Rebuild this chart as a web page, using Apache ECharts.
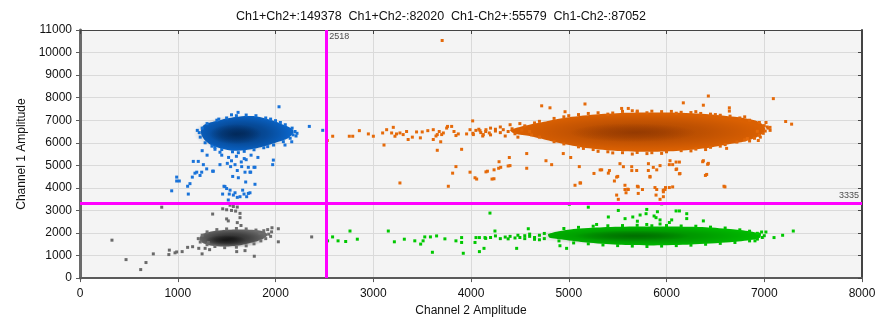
<!DOCTYPE html>
<html><head><meta charset="utf-8">
<script src="https://cdn.jsdelivr.net/npm/echarts@6/dist/echarts.min.js"></script>
<style>html,body{margin:0;padding:0;background:#fff}#c{width:882px;height:322px}</style>
</head><body><div id="c"></div>
<script>
// ---- axis ranges & thresholds ----
const xMin = 0, xMax = 8000, xStep = 1000;
const yMin = 0, yMax = 11000, yStep = 1000;
const thresholdX = 2518;
const thresholdY = 3335;
const xAxisName = 'Channel 2 Amplitude';
const yAxisName = 'Channel 1 Amplitude';
const quadrantNames = ['Ch1+Ch2+', 'Ch1+Ch2-', 'Ch1-Ch2+', 'Ch1-Ch2-'];
const quadrantCounts = [149378, 82020, 55579, 87052];

// ---- Ch1+Ch2+ (orange) ----
// dense-cloud outline (x, y)
const orangeOutline = [[4400,6560],[4500,6700],[4650,6850],[4800,6980],[5000,7130],[5300,7260],[5600,7330],[6000,7340],[6400,7280],[6700,7150],[6900,7000],[6990,6800],[7010,6600],[6980,6400],[6900,6200],[6800,6060],[6650,5950],[6400,5760],[6100,5640],[5800,5600],[5500,5640],[5200,5760],[4950,5950],[4750,6150],[4600,6300],[4450,6400]];
// density shading: centre x, centre y, half-width (x units), half-height (y units)
const orangeDensity = [[5750,6480,1250,800],[5660,6450,650,420]];
const orangeEdge = [
 [4700,6950],[4850,7080],[4950,7150],[5100,7250],[5200,7300],[5300,7330],[5450,7320],[5550,7390],[5700,7360],[5850,7400],[5950,7380],[6050,7390],[6150,7350],[6250,7340],[6350,7300],[6450,7270],[6550,7220],[6650,7180],[6750,7100],[6850,7000],[5400,7270],[5800,7330],[6100,7310],[6500,7250],[5000,7200],[5650,7420],[6300,7380],[6800,7150],
 [6950,6900],[7000,6760],[7040,6650],[7010,6520],[6990,6420],[6950,6330],[6900,6200],[6800,6130],[7060,6550],[7030,6700],[6960,6250],
 [4850,6050],[4950,5950],[5100,5820],[5250,5700],[5400,5600],[5550,5560],[5700,5570],[5850,5560],[6000,5600],[6150,5650],[6300,5720],[6450,5800],[6600,5920],[6720,6030],[5300,5620],[5650,5500],[5950,5530],[6250,5640],[5150,5750],[6400,5700],[5450,5550],[5800,5520],[6550,5850],[6850,6080],
 [4600,6500],[4520,6560],[4450,6400],[4380,6500],[4300,6450],[4250,6600],[4200,6350],[4150,6500],[4100,6450],[4050,6550],[4700,6250],[4650,6880],[4550,6750],[4480,6250],[4350,6300],[4620,6350],[4300,6700],[4200,6650],[4120,6300],[4020,6420],[4400,6800],[4500,6850],[4250,6520],[4330,6580],[4420,6620],[4080,6600]
];
const orangeOut = [
 [2530,6100],[2585,6290],[2755,6290],[2790,6290],[2858,6537],[2950,6392],[3001,6290],[3096,6435],[3110,5899],[3137,6580],[3188,6435],[3205,6684],[3222,6290],[3238,6392],[3273,6435],[3306,6363],[3341,6500],[3357,6145],[3400,6250],[3443,6480],[3482,6218],[3501,6480],[3558,6537],[3614,6580],[3655,6363],[3675,6500],[3700,6363],[3705,10535],[3655,5667],[3690,6044],[3751,6652],[3614,6145],[3717,6435],[3642,6300],[3760,6725],[3802,6725],[3826,6500],[3846,6320],[3870,6392],[3904,5710],[3955,6392],[3990,6580],[4017,6970],[4024,6363],[4092,6537],[4126,6363],[4153,6580],[4187,6435],[3273,4218],[3768,4072],
 [4723,7638],[4808,7550],[4962,7377],[5166,7720],[5541,7522],[5609,7522],[5701,7405],[6172,7770],[6377,7666],[6428,8074],[6643,7550],[6643,7405],[7093,7957],[7018,6900],[7219,6944],[7280,6826],[7059,6683],[6929,6509],[6939,6100],[6827,6187],
 [6615,5752],[6428,5087],[6411,4596],[6598,4044],[6377,5204],[6138,4635],[6104,4840],[6063,5030],[6029,5030],[6036,5204],[5900,4800],[5831,4508],[5865,4910],[5934,4987],[5815,5074],[5695,4770],[5644,4940],[5559,4940],[5524,5074],[5490,4478],[5405,4653],[5337,4800],[5258,4640],[5108,4943],[5115,4218],[5064,4116],[5020,5348],[4944,5522],[4825,5030],[4767,5204],[4570,5522],[4570,4870],[4399,4987],[4392,5348],[4304,4913],[4236,4800],[4235,4405],[4168,4740],[4287,5160],[5575,4116],[5575,3928],[5609,3928],[5711,4044],[5490,3681],[5882,4015],[5967,3900],[5990,4015],[5893,3681],[6063,4044],
 [3812,4653],[3846,4943],[3990,4696],[4041,4449],[4058,4391],[4153,4710],[4215,4391],[4283,4870],[4380,4971],[5121,4218],[5321,4797],[5416,4768],[5467,4305],[5501,4508],[5603,3942],[5586,3783],[5507,3493],[5645,4768],[5702,4072],[5711,3754],[5754,3928],[5814,4770],[5831,4478],[5900,3928],[5934,3493],[5968,3826],[5985,3928],[6029,4015],[5968,3609],[6098,4813],[6132,4623],[6370,5160],[6421,5044],[6398,4551],[6588,4072],[6098,5145],[6132,5145]
];

// ---- Ch1+Ch2- (blue) ----
const blueOutline = [[1240,6600],[1270,6800],[1380,6950],[1500,7080],[1637,7170],[1807,7170],[1950,7020],[2080,6800],[2170,6620],[2185,6450],[2130,6200],[2000,6000],[1850,5800],[1700,5680],[1570,5650],[1450,5740],[1340,5900],[1270,6150],[1240,6380]];
const blueDensity = [[1660,6420,500,820],[1590,6380,270,450]];
const blueEdge = [[1300,6850],[1400,7000],[1500,7100],[1600,7200],[1700,7230],[1800,7200],[1900,7100],[2000,6980],[2100,6800],[2170,6650],[2200,6500],[2180,6350],[2150,6200],[2080,6050],[1980,5900],[1880,5780],[1780,5690],[1680,5620],[1560,5600],[1450,5700],[1350,5850],[1280,6000],[1230,6250],[1220,6450],[1250,6650],[1200,6550],[2220,6420],[1420,7050],[1950,7050],[1550,7240],[2050,6900],[2210,6300],[1620,5560],[1380,5800],[1920,5830]];
const blueOut = [
 [2036,7596],[2346,6726],[2483,6552],[1617,7348],[1159,5174],[1210,5174],[1262,5030],[1296,4842],[1357,4740],[1432,5030],[1507,5087],[1541,4943],[1586,5030],[1609,4770],[1654,4943],[1722,4913],[1780,4913],[1739,4696],[1688,4696],[1562,4507],[1620,4449],[1176,4652],[1228,4551],[1125,4188],[1101,4072],[989,4478],[989,4305],[1016,4305],[938,3870],[1108,3726],[1473,4072],[1500,3971],[1459,3726],[1527,3726],[1586,3783],[1609,3580],[1678,3726],[1739,3783],[1790,4160],[1978,5232],[1971,5030],[2097,5899],[2166,6044],[1381,5710],[1432,5580],[1194,4696],[1245,4696],[1364,4740],[1483,4057],[1535,3899],[1569,3682],[1637,3609],[1664,3899],[1705,3609],[1722,3754],[1695,4261],[1746,4696],[1790,4913],[1517,3464],[1149,4478],
 [1450,5450],[1520,5350],[1600,5400],[1680,5300],[1750,5450],[1820,5350],[1550,5200],[1650,5150],[1700,5250],[1300,5450],[1250,5650]
];

// ---- Ch1-Ch2+ (green) ----
const greenOutline = [[4790,1950],[4900,2080],[5050,2180],[5350,2260],[5700,2290],[6050,2290],[6400,2260],[6680,2170],[6880,2060],[6960,1950],[6960,1800],[6880,1700],[6650,1590],[6250,1490],[5870,1450],[5500,1480],[5180,1580],[4950,1700],[4800,1800]];
const greenDensity = [[5750,1870,1150,430],[5650,1870,600,240]];
const greenEdge = [
 [4950,2200],[5100,2250],[5250,2300],[5400,2320],[5550,2330],[5700,2340],[5850,2320],[6000,2330],[6150,2310],[6300,2300],[6450,2260],[6600,2220],[6750,2140],[6850,2080],
 [4900,1650],[5050,1560],[5200,1520],[5350,1470],[5500,1440],[5650,1420],[5800,1400],[5950,1420],[6100,1440],[6250,1460],[6400,1500],[6550,1540],[6700,1580],[6850,1650],
 [6950,1950],[7000,1880],[6980,1800],[6930,1730],
 [4200,1800],[4300,1750],[4400,1850],[4500,1800],[4550,1750],[4600,1850],[4650,1800],[4700,1900],[4750,1750],[4450,1780],[4350,1820],[4250,1870],[4700,1700],[4600,1950],[4150,1760],[4480,1900],[4550,1880],[4650,1720],[4380,1740],[4750,1980]
];
const greenOut = [
 [2533,1652],[2584,1826],[2640,1652],[2718,1623],[2762,2087],[2837,1725],[3154,2087],[3216,1609],[3318,1725],[3425,1652],[3485,1508],[3510,1652],[3527,1826],[3585,1826],[3605,1145],[3648,1870],[3733,1740],[3846,1652],[3904,1797],[3904,1580],[3921,1101],[4041,1580],[4051,1797],[4086,1797],[4086,1174],[4133,1319],[4143,1797],[4194,2883],[4245,2087],[4467,1319],[4586,2188],[4910,1435],[4978,1319],[5006,3275],[5200,3144],[5285,2378],[5405,2710],[5507,3000],[5576,2636],[5655,2710],[5702,2522],[5730,2797],[5791,2855],[5798,3044],[5798,2378],[5873,2753],[5893,2680],[5907,2943],[5934,2580],[5934,2400],[5951,3290],[6029,2465],[6053,2580],[6098,2977],[6132,2977],[6207,2855],[6207,2638],[6377,2536],[6929,1986],[6973,2044],[7017,2044],[7100,1797],[7188,1899],[7297,2087],[6905,1652]
];

// ---- Ch1-Ch2- (grey) ----
const greyOutline = [[1225,1780],[1250,1950],[1330,2060],[1450,2120],[1600,2150],[1760,2140],[1880,2070],[1920,1920],[1880,1760],[1780,1600],[1640,1460],[1480,1400],[1350,1430],[1260,1550],[1225,1680]];
const greyDensity = [[1550,1760,360,430],[1490,1680,210,230]];
const greyEdge = [[1210,1750],[1230,1600],[1250,1900],[1300,2050],[1400,2150],[1500,2180],[1600,2200],[1700,2180],[1800,2130],[1880,2100],[1930,1950],[1950,1850],[1900,1750],[1850,1650],[1780,1520],[1700,1430],[1600,1370],[1480,1350],[1380,1400],[1300,1480],[1960,2050],[1920,2150]];
const greyOut = [
 [327,1682],[471,820],[621,378],[675,690],[750,1074],[836,3144],[909,1043],[914,1240],[972,1120],[989,1160],[1045,1174],[1101,1363],[1152,1392],[1215,1320],[1249,1074],[1326,1261],[1357,2840],[1460,3072],[1500,3030],[1550,3000],[1569,3174],[1609,3150],[1637,2870],[1592,2970],[1637,2680],[1609,2460],[1500,2624],[1517,2536],[1647,2333],[1783,970],[1841,2000],[1964,2232],[2029,2188],[2029,1609],[2370,1826],[1603,1174],[1688,1218],[1313,1580],[1280,1319],[1535,3231]
];

// ---- build chart ----
const FONT = 'Liberation Sans';
const titleText = quadrantNames.map((n, i) => n + ':' + quadrantCounts[i]).join('  ');

function dots(data, color, size, z) {
  return { type: 'scatter', data, symbol: 'rect', symbolSize: size, itemStyle: { color, opacity: 1 }, z, silent: true, animation: false };
}
function blob(outline, color, z) {
  return { type: 'custom', data: outline, z, silent: true, animation: false, encode: { x: 0, y: 1 },
    renderItem: (params, api) => {
      if (params.dataIndex !== 0) return null;
      return { type: 'polygon', shape: { points: outline.map(p => api.coord(p)), smooth: 0.25 }, style: { fill: color } };
    } };
}
function density(data, rgb, alpha, z) {
  return { type: 'custom', data, z, silent: true, animation: false, encode: { x: 0, y: 1 },
    renderItem: (params, api) => {
      const c = api.coord([api.value(0), api.value(1)]);
      const s = api.size([api.value(2), api.value(3)]);
      return { type: 'circle', shape: { cx: 0, cy: 0, r: 1 }, x: c[0], y: c[1], scaleX: s[0], scaleY: s[1],
        style: { fill: new echarts.graphic.RadialGradient(0.5, 0.5, 0.5, [
          { offset: 0, color: 'rgba(' + rgb + ',' + alpha + ')' },
          { offset: 0.5, color: 'rgba(' + rgb + ',' + (alpha * 0.6) + ')' },
          { offset: 1, color: 'rgba(' + rgb + ',0)' } ]) } };
    } };
}

const series = [
  blob(orangeOutline, '#da6002', 2),
  density(orangeDensity, '125,45,0', 0.5, 3),
  dots(orangeEdge, '#df6608', 3, 3),
  dots(orangeOut, '#e56a0a', 3, 4),

  blob(blueOutline, '#0a64c8', 2),
  density(blueDensity, '0,28,66', 0.6, 3),
  dots(blueEdge, '#1470d4', 3, 3),
  dots(blueOut, '#1a73d9', 3, 4),

  blob(greenOutline, '#00b800', 2),
  density(greenDensity, '0,85,0', 0.5, 3),
  dots(greenEdge, '#00c000', 3, 3),
  dots(greenOut, '#00c800', 3, 4),

  blob(greyOutline, '#6a6a6a', 2),
  density(greyDensity, '10,10,10', 0.7, 3),
  dots(greyEdge, '#6e6e6e', 3, 3),
  dots(greyOut, '#6a6a6a', 3, 4),

  { type: 'scatter', data: [[thresholdX, yMax]], symbolSize: 0, silent: true, animation: false, z: 10,
    label: { show: true, position: 'right', distance: 3, offset: [0, 7], formatter: String(thresholdX), fontSize: 9, fontFamily: FONT, color: '#222' },
    markLine: { symbol: 'none', silent: true, animation: false, label: { show: false },
      lineStyle: { color: '#ff00ff', width: 3, type: 'solid' },
      data: [{ xAxis: thresholdX }, { yAxis: thresholdY }] } },
  { type: 'scatter', data: [[xMax, thresholdY]], symbolSize: 0, silent: true, animation: false, z: 10,
    label: { show: true, position: 'left', distance: 3, offset: [0, -7], formatter: String(thresholdY), fontSize: 9, fontFamily: FONT, color: '#222' } }
];

const plain = v => String(v);
const chart = echarts.init(document.getElementById('c'), null, { renderer: 'canvas' });
chart.setOption({
  animation: false,
  backgroundColor: '#ffffff',
  title: { text: titleText, left: 'center', top: 5, textStyle: { fontSize: 12.5, fontWeight: 'normal', fontFamily: FONT, color: '#111' } },
  grid: { left: 80, right: 20, top: 30, bottom: 39, show: true, backgroundColor: '#f4f4f4', borderWidth: 0 },
  xAxis: [
    { type: 'value', min: xMin, max: xMax, interval: xStep, position: 'bottom',
      name: xAxisName, nameLocation: 'middle', nameGap: 25,
      nameTextStyle: { fontSize: 12, fontFamily: FONT, color: '#111' },
      axisLine: { show: true, onZero: false, lineStyle: { color: '#5a5a5a', width: 2 } },
      axisTick: { show: true, length: 4, lineStyle: { color: '#5a5a5a' } },
      axisLabel: { fontSize: 12, fontFamily: FONT, color: '#111', margin: 10, formatter: plain },
      splitLine: { show: true, lineStyle: { color: '#dadada', width: 1 } } },
    { type: 'value', min: xMin, max: xMax, interval: xStep, position: 'top',
      axisLine: { show: true, onZero: false, lineStyle: { color: '#444', width: 1 } },
      axisTick: { show: true, inside: true, length: 4, lineStyle: { color: '#444' } },
      axisLabel: { show: false }, splitLine: { show: false } }
  ],
  yAxis: [
    { type: 'value', min: yMin, max: yMax, interval: yStep, position: 'left',
      name: yAxisName, nameLocation: 'middle', nameGap: 49,
      nameTextStyle: { fontSize: 12, fontFamily: FONT, color: '#111' },
      axisLine: { show: true, onZero: false, lineStyle: { color: '#6a6a6a', width: 3 } },
      axisTick: { show: true, length: 4, lineStyle: { color: '#5a5a5a' } },
      axisLabel: { fontSize: 12, fontFamily: FONT, color: '#111', margin: 8, formatter: plain },
      splitLine: { show: true, lineStyle: { color: '#dadada', width: 1 } } },
    { type: 'value', min: yMin, max: yMax, interval: yStep, position: 'right',
      axisLine: { show: true, onZero: false, lineStyle: { color: '#444', width: 2 } },
      axisTick: { show: true, inside: true, length: 4, lineStyle: { color: '#444' } },
      axisLabel: { show: false }, splitLine: { show: false } }
  ],
  series
});
</script></body></html>
